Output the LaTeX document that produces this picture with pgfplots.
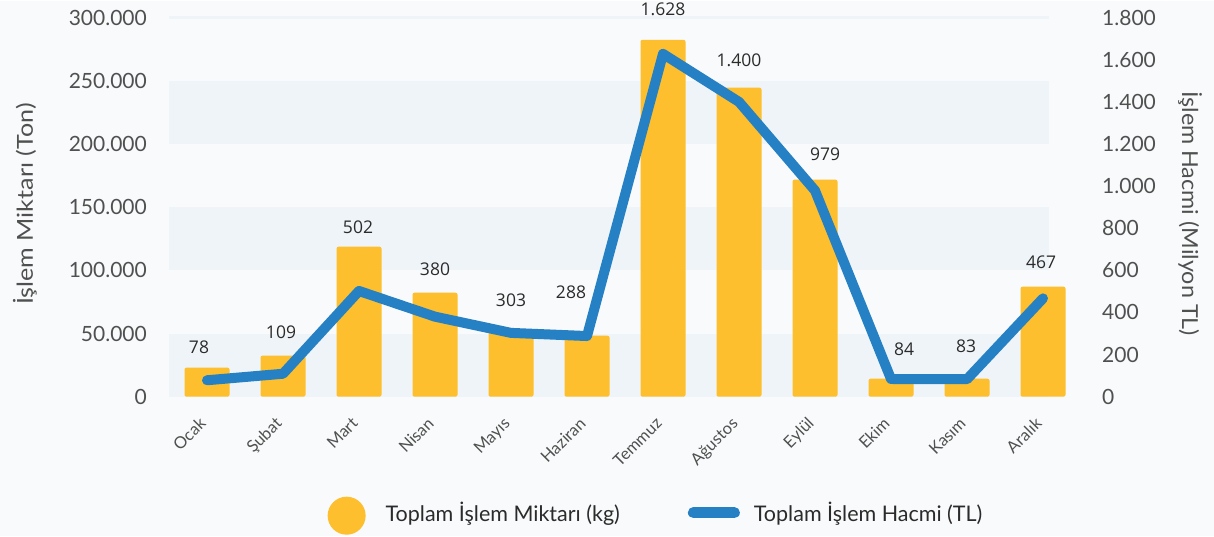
\documentclass[border=0pt]{standalone}
\usepackage{pgfplots}
\pgfplotsset{compat=1.18}
\usepackage{pgfplotstable}
\usepackage{fontspec}
\setmainfont{Lato}
\newfontfamily\labelfont{Open Sans}
\newfontfamily\titlefontL{Lato}[FakeStretch=1.14]
\newfontfamily\titlefontR{Lato}[FakeStretch=1.06]

\definecolor{pagebg}{HTML}{F9FAFB}
\definecolor{bandcol}{HTML}{EFF4F8}
\definecolor{barcol}{HTML}{FDBF2D}
\definecolor{linecol}{HTML}{2680C4}
\definecolor{tickcol}{HTML}{505050}
\definecolor{valcol}{HTML}{2B2B2B}

% month index, quantity (ton), volume (million TL), value-label offsets (pt)
\pgfplotstableread{
idx ton    tl    lx  ly
0   23000  78    -8  20
1   32500  109   -2  23
2   118700 502   -1  19
3   82300  380    0  23
4   51500  303    0  31
5   48300  288  -16  43
6   282500 1628   0  30
7   244600 1400   0  27
8   171800 979   10  25
9   14200  84    13  29
10  14200  83    -1  32
11  87100  467   -2  24
}\monthly

\pgfplotsset{
  base/.style={
    at={(169pt,139pt)}, anchor=south west,
    scale only axis, width=912pt, height=379pt,
    xmin=-0.5, xmax=11.5, ymin=0,
    axis line style={draw=none},
    major tick length=0pt,
    /pgf/number format/fixed,
    /pgf/number format/precision=0,
    /pgf/number format/1000 sep={.},
    /pgf/number format/assume math mode=true,
    scaled y ticks=false,
    yticklabel style={font=\fontsize{21}{21}\selectfont, text=tickcol, inner sep=0pt},
  }
}

\begin{document}
\begin{tikzpicture}[x=1pt,y=1pt]
\fill[pagebg] (0,0) rectangle (1214,535);

% left axis: quantity bars
\begin{axis}[base, ymax=300000, ytick={0,50000,...,300000},
  xtick={0,...,11},
  xticklabels={Ocak,Şubat,Mart,Nisan,Mayıs,Haziran,Temmuz,Ağustos,Eylül,Ekim,Kasım,Aralık},
  xticklabel style={font=\fontsize{16.5}{16.5}\selectfont, text=tickcol, inner sep=0pt,
    text height=11pt, text depth=3pt, xshift=-8pt, yshift=-20pt, rotate=45, anchor=north east},
  yticklabel style={anchor=east, xshift=-22pt},
  ylabel={İşlem Miktarı (Ton)},
  every axis y label/.style={at={(axis description cs:0,0.508)}, xshift=-144pt,
    rotate=90, anchor=center, font=\titlefontL\fontsize{22}{22}\selectfont, text=tickcol},
  clip=false]
  % alternating background bands and top grid line
  \fill[bandcol] (axis cs:-0.5,0) rectangle (axis cs:11.08,50000);
  \fill[bandcol] (axis cs:-0.5,100000) rectangle (axis cs:11.08,150000);
  \fill[bandcol] (axis cs:-0.5,200000) rectangle (axis cs:11.08,250000);
  \draw[bandcol, line width=3pt] (axis cs:-0.5,300000) -- (axis cs:11.08,300000);
  \addplot[ybar, bar width=45pt, fill=barcol, draw=none, rounded corners=2pt,
    nodes near coords, point meta=explicit,
    visualization depends on={\thisrow{lx} \as \lblx},
    visualization depends on={\thisrow{ly} \as \lbly},
    every node near coord/.append style={anchor=center, xshift=\lblx pt, yshift=\lbly pt,
      font=\labelfont\fontsize{17.5}{17.5}\selectfont, text=valcol}]
    table[x=idx, y=ton, meta=tl] {\monthly};
\end{axis}

% right axis: volume line
\begin{axis}[base, ymax=1800, ytick={0,200,...,1800},
  xtick=\empty,
  yticklabel pos=right,
  yticklabel style={anchor=west, xshift=21pt},
  ylabel={İşlem Hacmi (Milyon TL)},
  every axis y label/.style={at={(axis description cs:1,0.483)}, xshift=109pt,
    rotate=-90, anchor=center, font=\titlefontR\fontsize{22}{22}\selectfont, text=tickcol},
  legend columns=2,
  legend style={at={(0.534,-0.314)}, anchor=center, draw=none, fill=none,
    font=\fontsize{21.5}{21.5}\selectfont, text=valcol,
    /tikz/every odd column/.append style={column sep=12pt},
    /tikz/every even column/.append style={column sep=66pt}},
  clip=false]
  \addlegendimage{legend image code/.code={\fill[barcol, draw=none] (19pt,-3pt) circle (19pt);
    \path[draw=none, fill=none] (0,0) rectangle (44pt,0.1pt);}}
  \addlegendentry{Toplam İşlem Miktarı (kg)}
  \addplot[linecol, line width=10pt, line join=round, line cap=round, mark=none,
    legend image code/.code={\draw[linecol, line width=11pt, line cap=round] (5.5pt,0) -- (46.5pt,0);}]
    table[x=idx, y=tl] {\monthly};
  \addlegendentry{Toplam İşlem Hacmi (TL)}
\end{axis}
\end{tikzpicture}
\end{document}
